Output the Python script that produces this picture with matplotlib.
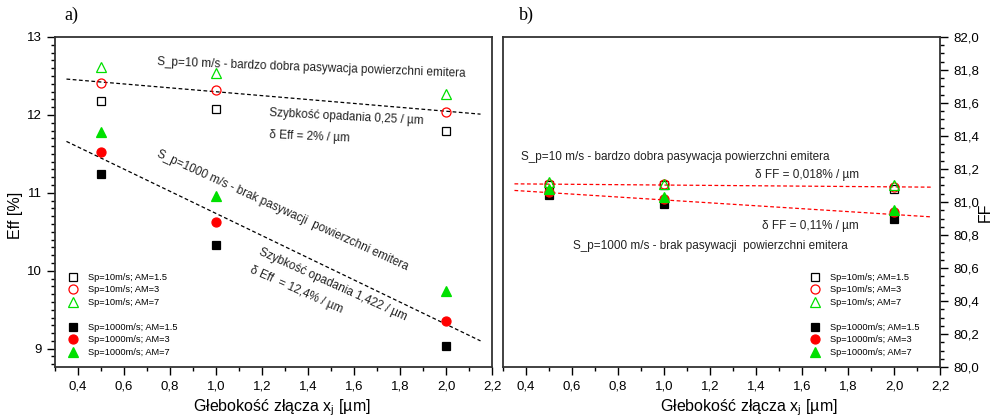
import matplotlib
matplotlib.use("Agg")
import matplotlib.pyplot as plt
from matplotlib.ticker import MultipleLocator, FuncFormatter
from matplotlib.lines import Line2D

plt.rcParams["font.family"] = ["Liberation Sans", "DejaVu Sans"]
plt.rcParams["mathtext.default"] = "regular"

# ── Data ──────────────────────────────────────────────────────────────────────
xj = [0.5, 1.0, 2.0]

# Eff [%]
eff_sp10_am15 = [12.18, 12.08, 11.79]
eff_sp10_am3 = [12.41, 12.32, 12.04]
eff_sp10_am7 = [12.62, 12.54, 12.27]
eff_sp1000_am15 = [11.24, 10.33, 9.03]
eff_sp1000_am3 = [11.52, 10.63, 9.35]
eff_sp1000_am7 = [11.78, 10.96, 9.74]

# FF
ff_sp10_am15 = [81.10, 81.10, 81.08]
ff_sp10_am3 = [81.11, 81.11, 81.09]
ff_sp10_am7 = [81.12, 81.11, 81.10]
ff_sp1000_am15 = [81.04, 80.99, 80.90]
ff_sp1000_am3 = [81.06, 81.02, 80.94]
ff_sp1000_am7 = [81.08, 81.03, 80.95]

# trend lines (end points)
fit_x_a = [0.35, 2.15]
fit_eff_sp10 = [12.46, 12.01]
fit_eff_sp1000 = [11.66, 9.10]
fit_x_b = [0.35, 2.16]
fit_ff_sp10 = [81.11, 81.09]
fit_ff_sp1000 = [81.07, 80.91]

labels = ["Sp=10m/s; AM=1.5", "Sp=10m/s; AM=3", "Sp=10m/s; AM=7",
          "Sp=1000m/s; AM=1.5", "Sp=1000m/s; AM=3", "Sp=1000m/s; AM=7"]

GREEN = "#00e000"
RED = "#ff0000"
styles = [
    dict(marker="s", mfc="none", mec="black", ms=5.5),
    dict(marker="o", mfc="none", mec=RED, ms=6.5),
    dict(marker="^", mfc="none", mec=GREEN, ms=7.5),
    dict(marker="s", mfc="black", mec="black", ms=5.5),
    dict(marker="o", mfc=RED, mec=RED, ms=6.5),
    dict(marker="^", mfc=GREEN, mec=GREEN, ms=7.5),
]


def comma(v, pos, nd):
    return f"{v:.{nd}f}".replace(".", ",")


def style_axes(ax):
    for sp in ax.spines.values():
        sp.set_linewidth(1.3)
        sp.set_color("#333333")
    ax.set_xlim(0.3, 2.2)
    ax.xaxis.set_major_locator(MultipleLocator(0.2))
    ax.xaxis.set_minor_locator(MultipleLocator(0.1))
    ax.xaxis.set_major_formatter(FuncFormatter(lambda v, p: comma(v, p, 1)))
    ax.tick_params(which="major", direction="out", length=6, width=1, labelsize=9.5)
    ax.tick_params(which="minor", direction="out", length=3, width=1)
    ax.set_xlabel("Głebokość złącza x$_\\mathregular{j}$ [µm]", fontsize=11.5, va="center")


def add_legend(ax, handles, x0):
    h = handles[:3] + [Line2D([], [], linestyle="none")] + handles[3:]
    l = labels[:3] + [""] + labels[3:]
    ax.legend(h, l, loc="lower left", bbox_to_anchor=(x0, 0.019), frameon=False,
              fontsize=6.7, handlelength=1.0, handletextpad=1.1,
              labelspacing=0.38, borderaxespad=0)


fig = plt.figure(figsize=(9.94, 4.19), dpi=100)
ax1 = fig.add_axes([0.0553, 0.1241, 0.4397, 0.7876])
ax2 = fig.add_axes([0.506, 0.1241, 0.4397, 0.7876])

# ── a) Eff ────────────────────────────────────────────────────────────────────
eff_series = [eff_sp10_am15, eff_sp10_am3, eff_sp10_am7,
              eff_sp1000_am15, eff_sp1000_am3, eff_sp1000_am7]
ax1.plot(fit_x_a, fit_eff_sp10, color="black", ls=(0, (3, 2)), lw=0.9)
ax1.plot(fit_x_a, fit_eff_sp1000, color="black", ls=(0, (3, 2)), lw=0.9)
h1 = [ax1.plot(xj, ys, ls="none", mew=0.9, **st)[0] for ys, st in zip(eff_series, styles)]

style_axes(ax1)
ax1.set_ylim(8.765, 13)
ax1.yaxis.set_major_locator(MultipleLocator(1))
ax1.yaxis.set_minor_locator(MultipleLocator(0.1))
ax1.yaxis.set_major_formatter(FuncFormatter(lambda v, p: comma(v, p, 0)))
ax1.set_ylabel("Eff [%]", fontsize=11.5, va="center")
ax1.yaxis.set_label_coords(-0.09, 0.46)
ax1.xaxis.set_label_coords(0.52, -0.123)

tk = dict(fontsize=8.5, ha="left", va="center", rotation_mode="anchor", color="#222222")
ax1.text(0.743, 12.68, "S_p=10 m/s - bardzo dobra pasywacja powierzchni emitera", rotation=-2.2, **tk)
ax1.text(1.233, 12.03, "Szybkość opadania 0,25 / µm", rotation=-3, **tk)
ax1.text(1.23, 11.74, "δ Eff = 2% / µm", rotation=-2.5, **tk)
ax1.text(0.745, 11.51, "S_p=1000 m/s - brak pasywacji  powierzchni emitera", rotation=-24.5, **tk)
ax1.text(1.19, 10.244, "Szybkość opadania 1,422 / µm", rotation=-24.3, **tk)
ax1.text(1.149, 10.02, "δ Eff  = 12,4% / µm", rotation=-24, **tk)
add_legend(ax1, h1, 0.022)

# ── b) FF ─────────────────────────────────────────────────────────────────────
ff_series = [ff_sp10_am15, ff_sp10_am3, ff_sp10_am7,
             ff_sp1000_am15, ff_sp1000_am3, ff_sp1000_am7]
ax2.plot(fit_x_b, fit_ff_sp10, color=RED, ls=(0, (3, 2)), lw=0.9)
ax2.plot(fit_x_b, fit_ff_sp1000, color=RED, ls=(0, (3, 2)), lw=0.9)
h2 = [ax2.plot(xj, ys, ls="none", mew=0.9, **st)[0] for ys, st in zip(ff_series, styles)]

style_axes(ax2)
ax2.set_ylim(80.0, 82.0)
ax2.yaxis.set_major_locator(MultipleLocator(0.2))
ax2.yaxis.set_minor_locator(MultipleLocator(0.05))
ax2.yaxis.set_major_formatter(FuncFormatter(lambda v, p: comma(v, p, 1)))
ax2.yaxis.tick_right()
ax2.yaxis.set_label_position("right")
ax2.set_ylabel("FF", fontsize=11.5, va="center")
ax2.yaxis.set_label_coords(1.103, 0.47)
ax2.xaxis.set_label_coords(0.563, -0.123)

tb = dict(fontsize=8.5, ha="left", va="center", color="#222222")
ax2.text(0.378, 81.273, "S_p=10 m/s - bardzo dobra pasywacja powierzchni emitera", **tb)
ax2.text(1.395, 81.164, "δ FF = 0,018% / µm", **tb)
ax2.text(1.428, 80.854, "δ FF = 0,11% / µm", **tb)
ax2.text(0.605, 80.733, "S_p=1000 m/s - brak pasywacji  powierzchni emitera", **tb)
add_legend(ax2, h2, 0.695)

# panel labels
fig.text(0.0644, 0.964, "a)", fontsize=13, family="Liberation Serif", va="center")
fig.text(0.522, 0.964, "b)", fontsize=13, family="Liberation Serif", va="center")

fig.savefig("out.png", dpi=100)
